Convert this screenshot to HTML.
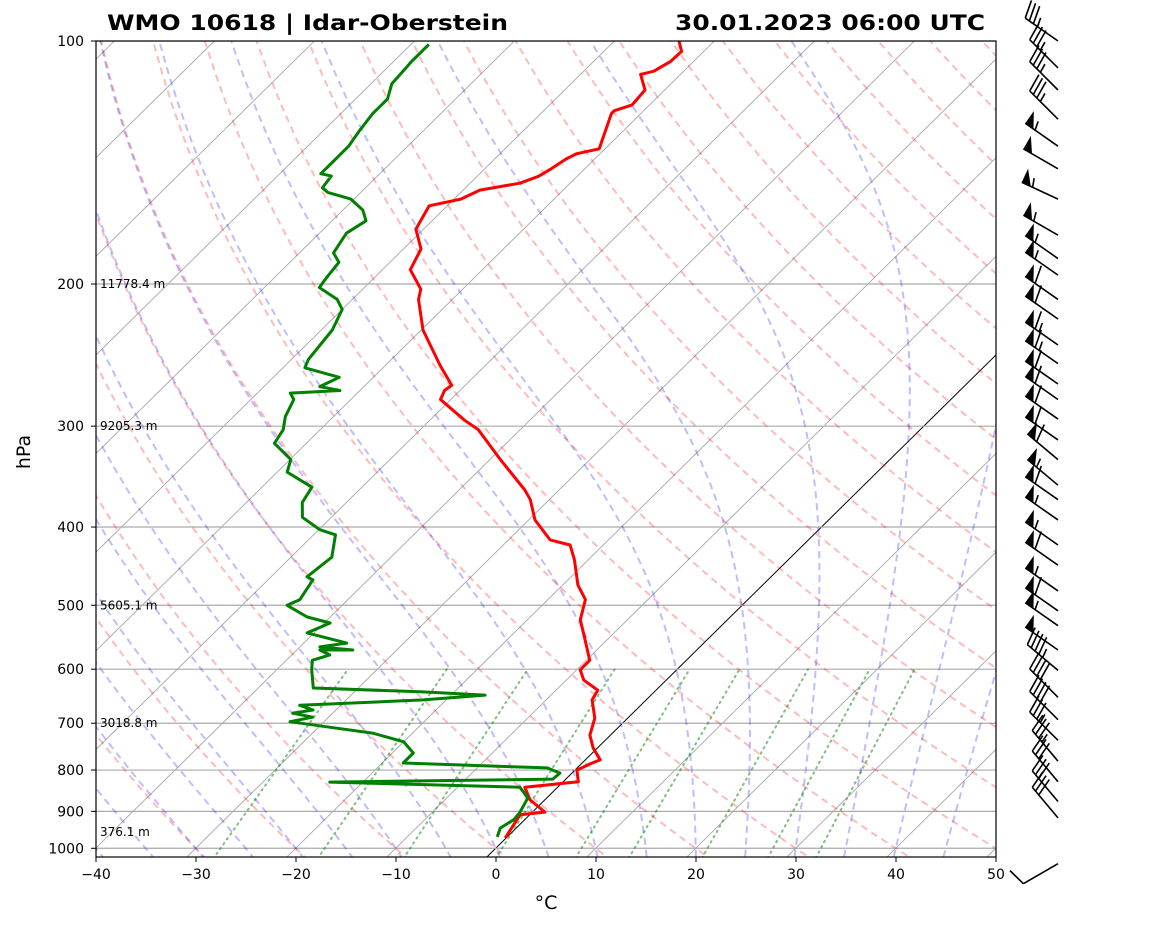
<!DOCTYPE html>
<html><head><meta charset="utf-8">
<style>
html,body{margin:0;padding:0;background:#fff;}
svg{display:block;font-family:"DejaVu Sans","Liberation Sans",sans-serif;}
</style></head>
<body>
<svg id="chart" width="1160" height="925" viewBox="0 0 1160 925" xmlns="http://www.w3.org/2000/svg">
  <defs><clipPath id="plotclip"><rect x="96" y="41" width="900" height="816"/></clipPath></defs>
  <rect width="1160" height="925" fill="#fff"/>
  <text x="107" y="30" font-size="21" font-weight="bold" textLength="401" lengthAdjust="spacingAndGlyphs">WMO 10618 | Idar-Oberstein</text>
  <text x="675" y="30" font-size="21" font-weight="bold" textLength="310" lengthAdjust="spacingAndGlyphs">30.01.2023 06:00 UTC</text>
  <g id="bg" clip-path="url(#plotclip)"></g>
  <g id="series" clip-path="url(#plotclip)"></g>
  <g id="axes"></g>
  <g id="barbs"></g>
  <text x="0" y="0" font-size="19" text-anchor="middle" transform="translate(30,452) rotate(-90)">hPa</text>
  <text x="546" y="909" font-size="19" text-anchor="middle">°C</text>
</svg>
<script>
// ---- data ----
const tempP = [971,909,902,871,840,827,800,786,777,751,724,690,655,637,619,601,585,552,521,492,472,439,421,415,392,370,360,330,303,295,278,271,267,252,228,209,203,192,181,171,160,157,153,150,147,144,140,138,136,123,122,120,115,110,109,106,103,100];
const tempT = [-0.1,-0.95,1.25,-1.47,-3.29,1.51,0.19,0.88,1.48,-0.44,-2.06,-3.28,-5.4,-5.82,-8.24,-9.65,-9.66,-12.19,-14.72,-16.25,-18.47,-21.4,-23.32,-25.83,-29.36,-31.89,-33.4,-38.94,-44.19,-46.5,-51.03,-51.54,-51.35,-54.58,-59.83,-63.37,-64.18,-67.21,-68.24,-70.77,-71.8,-69.31,-68.32,-65.03,-63.84,-63.35,-62.86,-62.37,-60.58,-62.93,-62.93,-61.74,-61.96,-63.98,-62.99,-62.3,-62.22,-63.53];
const dewP = [968,944,922,904,866,840,828,821,807,795,784,762,738,720,708,697,688,680,674,665,655,646,640,633,601,585,576,568,568,563,557,541,526,517,500,492,465,461,436,409,403,389,373,357,342,330,315,303,292,278,273,271,268,261,254,248,228,215,209,202,196,188,183,173,167,162,157,154,152,147,146,140,135,129,123,118,113,108,106,101];
const dewT = [-1.0,-1.6,-1.1,-1.2,-1.9,-3.8,-23.3,-1.3,-1.2,-3.0,-17.9,-17.9,-20.0,-24.0,-28.9,-33.4,-31.6,-34.0,-32.3,-34.1,-22.3,-16.6,-23.4,-34.5,-36.5,-37.4,-36.2,-37.7,-34.4,-38.0,-35.7,-40.7,-39.4,-42.3,-45.5,-44.8,-45.5,-46.4,-45.9,-47.8,-49.9,-52.9,-54.4,-55.0,-59.0,-59.9,-63.2,-63.7,-64.8,-65.7,-66.7,-62.0,-64.4,-63.4,-67.8,-68.3,-68.9,-70.0,-71.5,-74.5,-74.8,-75.1,-76.6,-77.3,-76.6,-78.0,-80.3,-83.3,-84.3,-84.6,-85.9,-85.9,-85.9,-86.4,-86.8,-86.8,-87.9,-88.1,-88.2,-88.2];
const yTicks = [100,200,300,400,500,600,700,800,900,1000];
const xTicks = [-40,-30,-20,-10,0,10,20,30,40,50];
const heightP = [200,300,500,700,955];
const heightLabels = ["11778.4 m","9205.3 m","5605.1 m","3018.8 m","376.1 m"];
const barbP = [100,108,115,125,135,144,157,174,186,195,209,221,238,251,266,278,294,312,330,355,370,392,421,446,480,508,530,568,602,650,693,735,780,827,875,917,1045];
const barbSpd = [35,35,35,35,55,50,55,55,55,55,60,60,65,65,60,60,60,60,60,55,60,55,55,60,55,60,55,50,45,40,40,35,35,30,30,30,10];
const barbDir = [305,315,315,315,305,300,295,300,305,305,305,305,305,305,305,305,305,305,310,310,305,305,305,305,305,305,305,305,310,315,315,315,320,320,320,320,240];
const dryT0 = [-30,-20,-10,0,10,20,30,40,50,60,70,80,90,100,110,120,130,140,150,160,170,180,190];
const moistT0 = [-50,-45,-40,-35,-30,-25,-20,-15,-10,-5,0,5,10,15,20,25,30,35,40,45];
const mixW = [0.0004,0.001,0.002,0.004,0.007,0.01,0.016,0.024,0.032];

// ---- scales ----
const NS="http://www.w3.org/2000/svg";
function yOf(p){return 41+350.6*Math.log(p/100);}
function xOf(T,p){return 496+10*T+1.014*(848-yOf(p));}
function mk(tag,attrs,parent){const e=document.createElementNS(NS,tag);for(const k in attrs)e.setAttribute(k,attrs[k]);parent.appendChild(e);return e;}
function pathFrom(ps,ts){let d="";for(let i=0;i<ps.length;i++){d+=(i?"L":"M")+xOf(ts[i],ps[i]).toFixed(1)+","+yOf(ps[i]).toFixed(1);}return d;}
const bg=document.getElementById('bg'), ser=document.getElementById('series'), ax=document.getElementById('axes'), bb=document.getElementById('barbs');

for(let T=-130;T<=50;T+=10){
  const l=mk('path',{d:pathFrom([1100,90],[T,T]),stroke:'#000','stroke-opacity':T===0?1:0.35,'stroke-width':T===0?1:0.9,fill:'none'},bg);
  
  
}
yTicks.forEach(p=>{
  const g=mk('line',{x1:96,x2:996,y1:yOf(p),y2:yOf(p),stroke:'#aaa','stroke-width':1.2},bg);
  
  
});
const pLev=[];for(let p=1060;p>=90;p-=10)pLev.push(p);
dryT0.forEach(t0=>{
  const ts=pLev.map(p=>(t0+273.15)*Math.pow(p/1000,0.2857)-273.15);
  const e=mk('path',{d:pathFrom(pLev,ts),stroke:'#f00','stroke-opacity':0.27,'stroke-width':2,'stroke-dasharray':'7,5',fill:'none'},bg);
  
  
});
function dTdp(T,p){const Tc=T-273.15;const es=6.112*Math.exp(17.67*Tc/(Tc+243.5));const rs=0.622*es/(p-es);
  const Rd=287.04,Cp=1005.7,Lv=2.501e6;return (Rd*T+Lv*rs)/(p*(Cp+Lv*Lv*rs*0.622/(Rd*T*T)));}
function integ(t0,pEnd){const out=[[1000,t0]];let T=t0+273.15,p=1000;const dp=pEnd<1000?-2:2;
  while((dp<0&&p>pEnd)||(dp>0&&p<pEnd)){const k1=dTdp(T,p),k2=dTdp(T+k1*dp/2,p+dp/2),k3=dTdp(T+k2*dp/2,p+dp/2),k4=dTdp(T+k3*dp,p+dp);
    T+=dp*(k1+2*k2+2*k3+k4)/6;p+=dp;if(Math.round(p)%10===0)out.push([p,T-273.15]);}return out;}
moistT0.forEach(t0=>{
  const up=integ(t0,90),dn=integ(t0,1060).reverse();const pts=dn.concat(up.slice(1));
  const e=mk('path',{d:pathFrom(pts.map(a=>a[0]),pts.map(a=>a[1])),stroke:'#00f','stroke-opacity':0.26,'stroke-width':2,'stroke-dasharray':'7,5',fill:'none'},bg);
  
  
});
mixW.forEach(w=>{
  const ps=[1060,600];const ts=ps.map(p=>{const e=w*p/(0.622+w);const l=Math.log(e/6.112);return 243.5*l/(17.67-l);});
  const e=mk('path',{d:pathFrom(ps,ts),stroke:'#008000','stroke-opacity':0.5,'stroke-width':2,'stroke-dasharray':'1.5,4.5','stroke-linecap':'round',fill:'none'},bg);
  
  
});
const tl=mk('path',{d:pathFrom(tempP,tempT),stroke:'#f00','stroke-width':3,fill:'none','stroke-linejoin':'round'},ser);


const dl=mk('path',{d:pathFrom(dewP,dewT),stroke:'#008000','stroke-width':3,fill:'none','stroke-linejoin':'round'},ser);


const fr=mk('rect',{x:96,y:41,width:900,height:816,fill:'none',stroke:'#000','stroke-width':1.2},ax);


yTicks.forEach(p=>{
  const y=yOf(p);
  mk('line',{x1:91,x2:96,y1:y,y2:y,stroke:'#000'},ax);
  const t=mk('text',{x:84,y:y+5,'font-size':14,'text-anchor':'end'},ax);t.textContent=p;
  
  
});
xTicks.forEach(T=>{
  const x=96+(T+40)*10;
  mk('line',{x1:x,x2:x,y1:857,y2:862,stroke:'#000'},ax);
  const t=mk('text',{x:x,y:879,'font-size':14,'text-anchor':'middle'},ax);t.textContent=(T<0?'\u2212'+(-T):T);
  
  
});
heightP.forEach((p,i)=>{
  const t=mk('text',{x:100,y:yOf(p)+4,'font-size':12},ax);t.textContent=heightLabels[i];
  
  
});
barbP.forEach((p,i)=>{
  const g=mk('g',{},bb);
  
  
  const bx=1058,by=yOf(p),L=40,a=barbDir[i]*Math.PI/180;
  const dx=Math.sin(a),dy=-Math.cos(a);
  const tx=bx+dx*L,ty=by+dy*L;
  mk('line',{x1:bx,y1:by,x2:tx,y2:ty,stroke:'#000','stroke-width':1.6},g);
  const px=-dy,py=dx; const bl=18;
  let s=Math.round(barbSpd[i]/5)*5,pos=0;const step=5;
  while(s>=50){const x0=tx-dx*pos,y0=ty-dy*pos;const x1=tx-dx*(pos+10),y1=ty-dy*(pos+10);
    mk('polygon',{points:`${x0},${y0} ${x0+px*15},${y0+py*15} ${x1},${y1}`,fill:'#000'},g);pos+=12;s-=50;}
  while(s>=10){const x0=tx-dx*pos,y0=ty-dy*pos;mk('line',{x1:x0,y1:y0,x2:x0+px*bl+dx*5,y2:y0+py*bl+dy*5,stroke:'#000','stroke-width':1.6},g);pos+=step;s-=10;}
  if(s>=5){if(pos===0)pos=step;const x0=tx-dx*pos,y0=ty-dy*pos;mk('line',{x1:x0,y1:y0,x2:x0+px*bl/2+dx*2.5,y2:y0+py*bl/2+dy*2.5,stroke:'#000','stroke-width':1.6},g);}
});
</script>
</body></html>
